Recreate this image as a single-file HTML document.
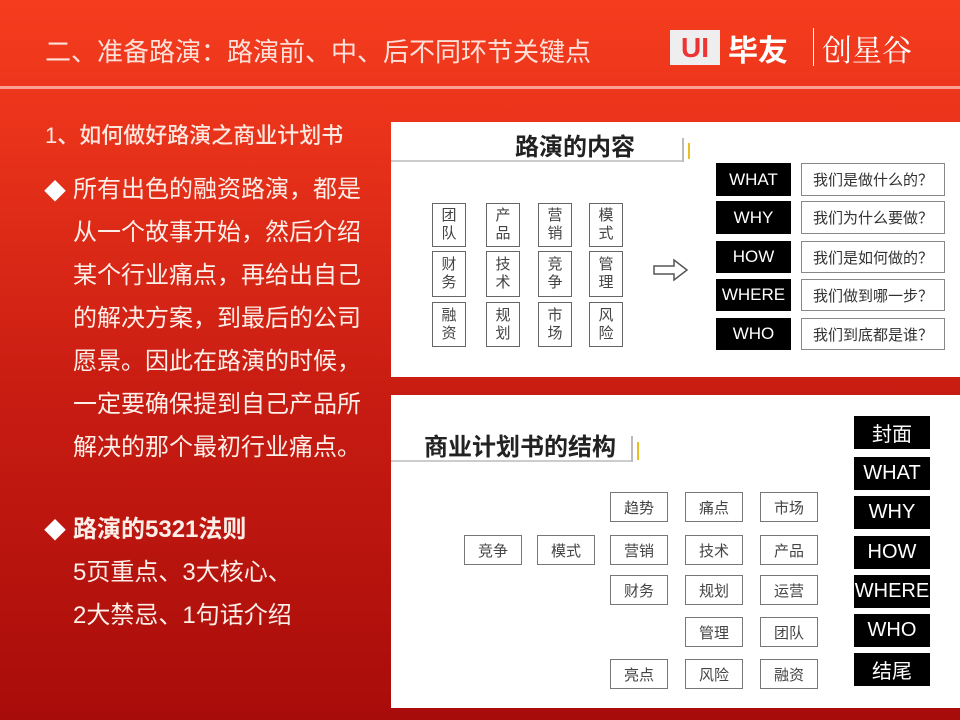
<!DOCTYPE html>
<html><head><meta charset="utf-8"><style>
*{margin:0;padding:0;box-sizing:border-box}
body{width:960px;height:720px;overflow:hidden;position:relative;font-family:"Liberation Sans","Noto Sans CJK SC",sans-serif;background:linear-gradient(180deg,#f53c1e 0%,#e8321a 20%,#c81c12 55%,#a80c0a 100%)}
.a{position:absolute}
.t{color:#fff;white-space:nowrap}
.panel{position:absolute;background:#fff}
.sb{position:absolute;border:1.5px solid #666;background:#fff;color:#444;font-size:15px;display:flex;align-items:center;justify-content:center;text-align:center;line-height:18px}
.bk{position:absolute;background:#000;color:#fff;display:flex;align-items:center;justify-content:center;font-size:17px}
.wb{position:absolute;border:1.5px solid #888;background:#fff;color:#333;font-size:15px;display:flex;align-items:center;justify-content:center}
.bb{position:absolute;border:1.5px solid #777;background:#fff;color:#444;font-size:15px;display:flex;align-items:center;justify-content:center;width:58px;height:30px}
.bl{position:absolute;background:#000;color:#fff;display:flex;align-items:center;justify-content:center;font-size:20px;width:76px;height:33px}
</style></head><body>
<div class="a t" style="left:45px;top:32px;font-size:26px;color:#fde0d8">二、准备路演：路演前、中、后不同环节关键点</div>
<div class="a" style="left:670px;top:30px;width:50px;height:35px;background:#eee;color:#e33;font-weight:bold;font-size:28px;line-height:35px;text-align:center">UI</div>
<div class="a t" style="left:728px;top:26px;font-size:30px;font-weight:bold">毕友</div>
<div class="a" style="left:813px;top:28px;width:1px;height:38px;background:#fff"></div>
<div class="a t" style="left:822px;top:26px;font-size:30px;font-family:'Noto Serif CJK SC',serif">创星谷</div>
<div class="a" style="left:0;top:86px;width:960px;height:3px;background:#f9a090"></div>

<div class="a t" style="left:45px;top:118px;font-size:22px;font-weight:500;color:#fde8e0">1、如何做好路演之商业计划书</div>
<div class="a t" style="left:44px;top:170px;font-size:22px;line-height:43px">◆</div>
<div class="a t" style="left:73px;top:168px;font-size:24px;line-height:43px;color:#fdeee8">所有出色的融资路演，都是<br>从一个故事开始，然后介绍<br>某个行业痛点，再给出自己<br>的解决方案，到最后的公司<br>愿景。因此在路演的时候，<br>一定要确保提到自己产品所<br>解决的那个最初行业痛点。</div>
<div class="a t" style="left:44px;top:509px;font-size:22px;line-height:43px">◆</div>
<div class="a t" style="left:73px;top:508px;font-size:24px;line-height:43px;color:#fdeee8"><span style="font-weight:bold">路演的5321法则</span><br>5页重点、3大核心、<br>2大禁忌、1句话介绍</div>

<div class="panel" style="left:391px;top:122px;width:569px;height:255px"></div>
<div class="a" style="left:515px;top:127px;font-size:24px;font-weight:bold;color:#222">路演的内容</div>
<div class="a" style="left:391px;top:160px;width:292px;height:2px;background:#ccc"></div>
<div class="a" style="left:682px;top:138px;width:2px;height:24px;background:#bbb"></div>
<div class="a" style="left:688px;top:143px;width:2px;height:16px;background:#e8c020"></div>
<div class="sb" style="left:432px;top:203px;width:34px;height:44px">团<br>队</div>
<div class="sb" style="left:486px;top:203px;width:34px;height:44px">产<br>品</div>
<div class="sb" style="left:538px;top:203px;width:34px;height:44px">营<br>销</div>
<div class="sb" style="left:589px;top:203px;width:34px;height:44px">模<br>式</div>
<div class="sb" style="left:432px;top:251px;width:34px;height:46px">财<br>务</div>
<div class="sb" style="left:486px;top:251px;width:34px;height:46px">技<br>术</div>
<div class="sb" style="left:538px;top:251px;width:34px;height:46px">竞<br>争</div>
<div class="sb" style="left:589px;top:251px;width:34px;height:46px">管<br>理</div>
<div class="sb" style="left:432px;top:302px;width:34px;height:45px">融<br>资</div>
<div class="sb" style="left:486px;top:302px;width:34px;height:45px">规<br>划</div>
<div class="sb" style="left:538px;top:302px;width:34px;height:45px">市<br>场</div>
<div class="sb" style="left:589px;top:302px;width:34px;height:45px">风<br>险</div>
<svg class="a" style="left:652px;top:258px" width="38" height="24"><path d="M2 8H22V2L35 12L22 22V16H2Z" fill="#fff" stroke="#555" stroke-width="1.5"/></svg>
<div class="bk" style="left:716px;top:163px;width:75px;height:33px">WHAT</div>
<div class="bk" style="left:716px;top:201px;width:75px;height:33px">WHY</div>
<div class="bk" style="left:716px;top:241px;width:75px;height:32px">HOW</div>
<div class="bk" style="left:716px;top:279px;width:75px;height:32px">WHERE</div>
<div class="bk" style="left:716px;top:318px;width:75px;height:32px">WHO</div>
<div class="wb" style="left:801px;top:163px;width:144px;height:33px">我们是做什么的？</div>
<div class="wb" style="left:801px;top:201px;width:144px;height:33px">我们为什么要做？</div>
<div class="wb" style="left:801px;top:241px;width:144px;height:32px">我们是如何做的？</div>
<div class="wb" style="left:801px;top:279px;width:144px;height:32px">我们做到哪一步？</div>
<div class="wb" style="left:801px;top:318px;width:144px;height:32px">我们到底都是谁？</div>

<div class="panel" style="left:391px;top:395px;width:569px;height:313px"></div>
<div class="a" style="left:424px;top:427px;font-size:24px;font-weight:bold;color:#222">商业计划书的结构</div>
<div class="a" style="left:391px;top:460px;width:240px;height:2px;background:#ccc"></div>
<div class="a" style="left:631px;top:436px;width:2px;height:26px;background:#bbb"></div>
<div class="a" style="left:637px;top:442px;width:2px;height:18px;background:#e8c020"></div>
<div class="bb" style="left:610px;top:492px">趋势</div>
<div class="bb" style="left:685px;top:492px">痛点</div>
<div class="bb" style="left:760px;top:492px">市场</div>
<div class="bb" style="left:464px;top:535px">竞争</div>
<div class="bb" style="left:537px;top:535px">模式</div>
<div class="bb" style="left:610px;top:535px">营销</div>
<div class="bb" style="left:685px;top:535px">技术</div>
<div class="bb" style="left:760px;top:535px">产品</div>
<div class="bb" style="left:610px;top:575px">财务</div>
<div class="bb" style="left:685px;top:575px">规划</div>
<div class="bb" style="left:760px;top:575px">运营</div>
<div class="bb" style="left:685px;top:617px">管理</div>
<div class="bb" style="left:760px;top:617px">团队</div>
<div class="bb" style="left:610px;top:659px">亮点</div>
<div class="bb" style="left:685px;top:659px">风险</div>
<div class="bb" style="left:760px;top:659px">融资</div>
<div class="bl" style="left:854px;top:416px">封面</div>
<div class="bl" style="left:854px;top:457px">WHAT</div>
<div class="bl" style="left:854px;top:496px">WHY</div>
<div class="bl" style="left:854px;top:536px">HOW</div>
<div class="bl" style="left:854px;top:575px">WHERE</div>
<div class="bl" style="left:854px;top:614px">WHO</div>
<div class="bl" style="left:854px;top:653px">结尾</div>
</body></html>
